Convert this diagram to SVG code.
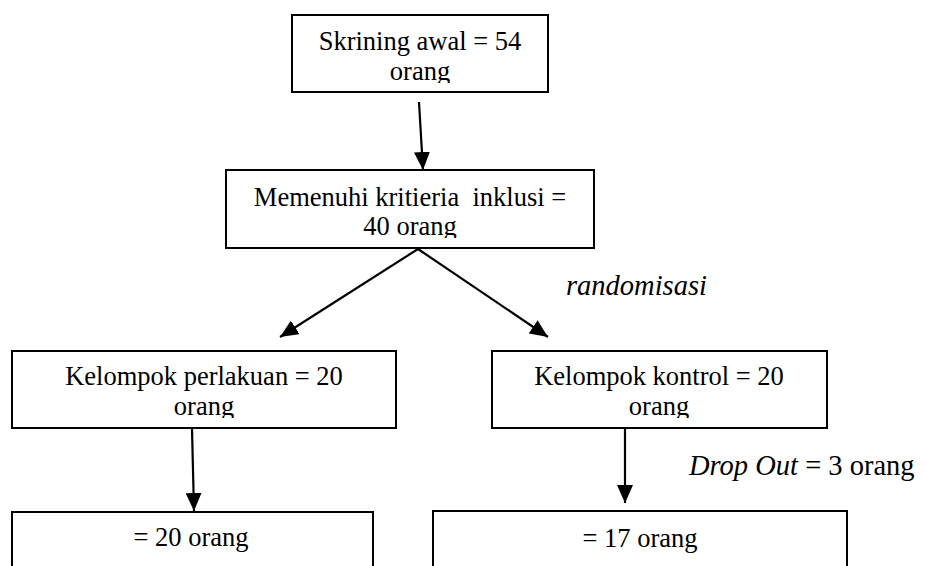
<svg xmlns="http://www.w3.org/2000/svg" width="925" height="566" viewBox="0 0 925 566">
<style>
.box{fill:#fff;stroke:#000;stroke-width:2}
text{font-family:'Liberation Serif','Times New Roman','DejaVu Serif',serif;font-size:26.5px;fill:#000}
.t{text-anchor:middle}
.lbl{font-size:28.5px}
.c{stroke:#000;stroke-width:2.2;fill:none;marker-end:url(#ah)}
</style>
<defs>
<marker id="ah" markerUnits="userSpaceOnUse" markerWidth="18" markerHeight="16" refX="18" refY="8" orient="auto" viewBox="0 0 18 16">
<path d="M0,0 L18,8 L0,16 z" fill="#000"/>
</marker>
<clipPath id="c1"><rect x="292" y="15" width="256" height="68"/></clipPath>
<clipPath id="c2"><rect x="226" y="170" width="368" height="68"/></clipPath>
<clipPath id="c3"><rect x="12" y="351" width="384" height="67"/></clipPath>
<clipPath id="c4"><rect x="492" y="351" width="335" height="67"/></clipPath>
</defs>
<g id="connectors">
<line class="c" x1="419" y1="102" x2="423" y2="170"/>
<line class="c" x1="418" y1="249" x2="280" y2="337"/>
<line class="c" x1="418" y1="249" x2="548" y2="337"/>
<line class="c" x1="192" y1="429" x2="194" y2="511"/>
<line class="c" x1="625" y1="429" x2="625" y2="503"/>
</g>
<g id="n1">
<rect class="box" x="292" y="15" width="256" height="77"/>
<g clip-path="url(#c1)"><text class="t" x="420" y="50">Skrining awal = 54</text><text class="t" x="420" y="80">orang</text></g>
</g>
<g id="n2">
<rect class="box" x="226" y="170" width="368" height="78"/>
<g clip-path="url(#c2)"><text class="t" x="410" y="206" xml:space="preserve">Memenuhi kritieria  inklusi =</text><text class="t" x="410" y="235">40 orang</text></g>
</g>
<g id="lbl-random">
<text class="lbl" x="566" y="295" font-style="italic">randomisasi</text>
</g>
<g id="n3">
<rect class="box" x="12" y="351" width="384" height="77"/>
<g clip-path="url(#c3)"><text class="t" x="204" y="385">Kelompok perlakuan = 20</text><text class="t" x="204" y="415">orang</text></g>
</g>
<g id="n4">
<rect class="box" x="492" y="351" width="335" height="77"/>
<g clip-path="url(#c4)"><text class="t" x="659" y="385">Kelompok kontrol = 20</text><text class="t" x="659" y="415">orang</text></g>
</g>
<g id="lbl-drop">
<text class="lbl" x="689" y="475"><tspan font-style="italic">Drop Out</tspan> = 3 orang</text>
</g>
<g id="n5">
<rect class="box" x="12" y="512" width="361" height="60"/>
<text class="t" x="191" y="546">= 20 orang</text>
</g>
<g id="n6">
<rect class="box" x="433" y="511" width="414" height="61"/>
<text class="t" x="640" y="547">= 17 orang</text>
</g>
</svg>
